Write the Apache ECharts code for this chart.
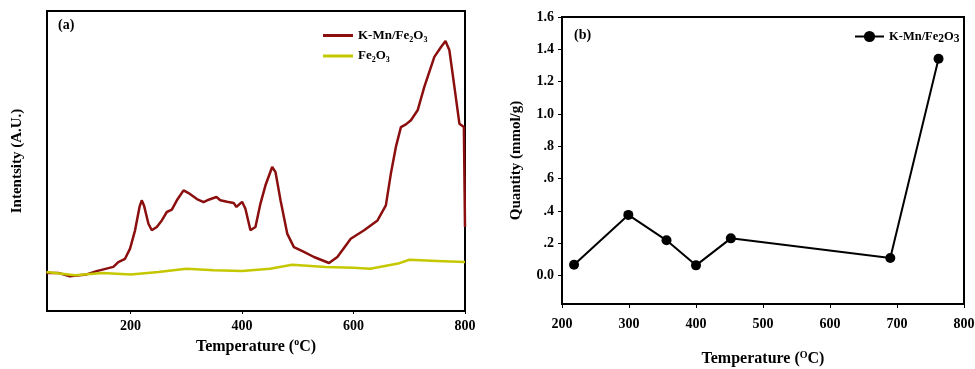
<!DOCTYPE html>
<html><head><meta charset="utf-8">
<script src="https://cdn.jsdelivr.net/npm/echarts@6/dist/echarts.min.js"></script>
<style>html,body{margin:0;padding:0;background:#fff}#c{width:975px;height:369px}</style>
</head><body><div id="c"></div>
<script>
// Panel (a): TPR profiles (arbitrary intensity units)
const kmnTemp = [49,70,91,121,139,169,178,190,199,208,216,220,224,232,238,247,256,265,274,283,295,304,319,331,340,354,361,373,385,390,400,406,415,424,433,442,454,460,469,481,493,511,529,556,571,595,619,643,658,667,676,685,694,703,715,727,745,757,765,772,781,790,798,800];
const kmnInt  = [12.7,12.7,11.6,12.2,13.3,14.7,16.3,17.4,20.8,26.9,34.7,36.9,35.2,29.1,26.9,28,30.2,33,33.8,36.9,40.2,39.3,37.3,36.3,37.1,38,36.9,36.4,36,34.7,36.4,34.1,26.9,28,35.8,41.9,48,46.3,36.9,25.8,21.3,19.7,18,16,18,24.1,26.9,30.2,35.2,45.8,54.7,61.3,62.2,63.6,66.9,74.7,84.7,88,90,86.9,74.7,62.4,61.3,28];
const feTemp = [49,100,150,200,250,300,350,400,450,490,550,600,630,680,700,750,800];
const feInt  = [13,11.9,12.7,12.2,13,14.1,13.6,13.3,14.1,15.4,14.7,14.4,14.1,15.8,17.1,16.7,16.3];
const aTicks = [200,400,600,800];
// Panel (b): H2 consumption
const bTemp = [218,299,356,400,452,690,762];
const bQty  = [0.068,0.376,0.219,0.064,0.231,0.109,1.342];
const bXTicks = [200,300,400,500,600,700,800];
const bYTicks = [0,0.2,0.4,0.6,0.8,1.0,1.2,1.4,1.6];

const FONT = 'Liberation Serif';
const rich = {
  n:{fontFamily:FONT,fontWeight:'bold',fontSize:13,color:'#000'},
  s:{fontFamily:FONT,fontWeight:'bold',fontSize:8,color:'#000',verticalAlign:'bottom',padding:[8,0,0,0]},
  t:{fontFamily:FONT,fontWeight:'bold',fontSize:16,color:'#000'},
  sup:{fontFamily:FONT,fontWeight:'bold',fontSize:10,color:'#000',verticalAlign:'top',padding:[0,0,8,0]}
};
const richB = Object.assign({}, rich, {
  n:{fontFamily:FONT,fontWeight:'bold',fontSize:12.5,color:'#000'},
  s:{fontFamily:FONT,fontWeight:'bold',fontSize:11.5,color:'#000',verticalAlign:'bottom',padding:[6,0,0,0]}
});
const chart = echarts.init(document.getElementById('c'));
const nameFmt = n => n.startsWith('K-Mn') ? '{n|K-Mn/Fe}{s|2}{n|O}{s|3}' : '{n|Fe}{s|2}{n|O}{s|3}';
chart.setOption({
  animation:false,
  backgroundColor:'#fff',
  grid:[
    {left:47,top:11,width:418,height:300,show:true,borderColor:'#000',borderWidth:2,containLabel:false,outerBoundsMode:'none'},
    {left:562,top:17,width:402,height:287,show:true,borderColor:'#000',borderWidth:2,containLabel:false,outerBoundsMode:'none'}
  ],
  xAxis:[
    {gridIndex:0,type:'value',min:50,max:800,
     name:'{t|Temperature (}{sup|o}{t|C)}',nameLocation:'middle',nameGap:26,nameTextStyle:{rich:rich},
     axisLine:{onZero:false,lineStyle:{color:'#000',width:2}},
     axisTick:{show:true,customValues:aTicks,length:3,lineStyle:{color:'#000'}},
     axisLabel:{customValues:aTicks,fontFamily:FONT,fontWeight:'bold',fontSize:14,color:'#000',margin:8},
     splitLine:{show:false}},
    {gridIndex:1,type:'value',min:200,max:800,
     name:'{t|Temperature (}{sup|O}{t|C)}',nameLocation:'middle',nameGap:46,nameTextStyle:{rich:rich},
     axisLine:{onZero:false,lineStyle:{color:'#000',width:2}},
     axisTick:{show:true,customValues:bXTicks,length:4,lineStyle:{color:'#000'}},
     axisLabel:{customValues:bXTicks,fontFamily:FONT,fontWeight:'bold',fontSize:14,color:'#000',margin:13},
     splitLine:{show:false}}
  ],
  yAxis:[
    {gridIndex:0,type:'value',min:0,max:100,
     name:'Intentsity (A.U.)',nameLocation:'middle',nameGap:22,
     nameTextStyle:{fontFamily:FONT,fontWeight:'bold',fontSize:15,color:'#000'},
     axisLine:{onZero:false,lineStyle:{color:'#000',width:2}},axisTick:{show:false},axisLabel:{show:false},splitLine:{show:false}},
    {gridIndex:1,type:'value',min:-0.175,max:1.6,
     name:'Quantity (mmol/g)',nameLocation:'middle',nameGap:38,
     nameTextStyle:{fontFamily:FONT,fontWeight:'bold',fontSize:15,color:'#000'},
     axisLine:{onZero:false,lineStyle:{color:'#000',width:2}},
     axisTick:{show:true,customValues:bYTicks,length:4,lineStyle:{color:'#000'}},
     axisLabel:{customValues:bYTicks,fontFamily:FONT,fontWeight:'bold',fontSize:14,color:'#000',margin:8,
       formatter:v=>{const s=v.toFixed(1);return (v>0&&v<1)?s.slice(1):s;}},
     splitLine:{show:false}}
  ],
  legend:[
    {data:['K-Mn/Fe2O3 (a)','Fe2O3'],left:318,top:24,orient:'vertical',icon:'rect',itemWidth:30,itemHeight:3,itemGap:6,
     formatter:nameFmt,textStyle:{rich:rich}},
    {data:['K-Mn/Fe2O3 (b)'],left:849,top:25,itemWidth:29,itemHeight:14,
     formatter:nameFmt,textStyle:{rich:richB}}
  ],
  graphic:[
    {type:'text',left:58,top:18,style:{text:'(a)',font:'bold 14px "Liberation Serif"',fill:'#000'}},
    {type:'text',left:574,top:28,style:{text:'(b)',font:'bold 14px "Liberation Serif"',fill:'#000'}}
  ],
  series:[
    {name:'K-Mn/Fe2O3 (a)',type:'line',xAxisIndex:0,yAxisIndex:0,symbol:'none',
     data:kmnTemp.map((t,i)=>[t,kmnInt[i]]),lineStyle:{color:'#8b0f0f',width:2.5},itemStyle:{color:'#8b0f0f'}},
    {name:'Fe2O3',type:'line',xAxisIndex:0,yAxisIndex:0,symbol:'none',
     data:feTemp.map((t,i)=>[t,feInt[i]]),lineStyle:{color:'#c5c800',width:2.5},itemStyle:{color:'#c5c800'}},
    {name:'K-Mn/Fe2O3 (b)',type:'line',xAxisIndex:1,yAxisIndex:1,symbol:'circle',symbolSize:10,
     data:bTemp.map((t,i)=>[t,bQty[i]]),lineStyle:{color:'#000',width:2},itemStyle:{color:'#000'}}
  ]
});
</script></body></html>
